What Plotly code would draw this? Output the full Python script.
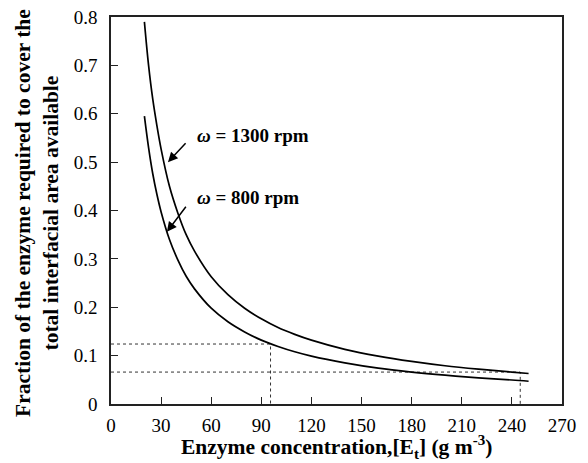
import plotly.graph_objects as go

# Data
enzyme_conc = [20, 22.5, 25, 27.5, 30, 35, 40, 45, 50, 60, 70, 80, 90, 100, 110, 120, 140, 160, 180, 200, 220, 240, 250]
frac_1300 = [0.79, 0.70, 0.63, 0.575, 0.527, 0.45, 0.395, 0.35, 0.316, 0.263, 0.226, 0.198, 0.176, 0.158, 0.144,
             0.132, 0.113, 0.099, 0.088, 0.079, 0.072, 0.066, 0.063]
frac_800 = [0.595, 0.53, 0.476, 0.433, 0.397, 0.34, 0.298, 0.264, 0.238, 0.198, 0.17, 0.149, 0.132, 0.119, 0.108,
            0.099, 0.085, 0.074, 0.066, 0.0595, 0.054, 0.0496, 0.047]

# Dotted guide lines
guide1_x = [0, 95.5, 95.5]
guide1_y = [0.124, 0.124, 0]
guide2_x = [0, 245, 245]
guide2_y = [0.066, 0.066, 0]

x_ticks = [0, 30, 60, 90, 120, 150, 180, 210, 240, 270]
y_ticks = [0, 0.1, 0.2, 0.3, 0.4, 0.5, 0.6, 0.7, 0.8]
y_tick_text = ["0", "0.1", "0.2", "0.3", "0.4", "0.5", "0.6", "0.7", "0.8"]

FONT = "Liberation Serif"

fig = go.Figure()
fig.add_trace(go.Scatter(x=guide1_x, y=guide1_y, mode="lines",
                         line=dict(color="#333", width=1, dash="dot"), hoverinfo="skip"))
fig.add_trace(go.Scatter(x=guide2_x, y=guide2_y, mode="lines",
                         line=dict(color="#333", width=1, dash="dot"), hoverinfo="skip"))
fig.add_trace(go.Scatter(x=enzyme_conc, y=frac_1300, mode="lines", name="1300 rpm",
                         line=dict(color="black", width=1.7, shape="spline")))
fig.add_trace(go.Scatter(x=enzyme_conc, y=frac_800, mode="lines", name="800 rpm",
                         line=dict(color="black", width=1.7, shape="spline")))

# Arrows
fig.add_annotation(x=34.1, y=0.500, ax=45.5, ay=0.542, axref="x", ayref="y", xref="x", yref="y",
                   text="", showarrow=True, arrowhead=2, arrowsize=1.3, arrowwidth=1.5, arrowcolor="black")
fig.add_annotation(x=33.5, y=0.356, ax=45.5, ay=0.411, axref="x", ayref="y", xref="x", yref="y",
                   text="", showarrow=True, arrowhead=2, arrowsize=1.3, arrowwidth=1.5, arrowcolor="black")
# Labels
fig.add_annotation(x=50.3, y=0.556, xref="x", yref="y", xanchor="left", yanchor="middle", showarrow=False,
                   text="<b><i>ω</i> = 1300 rpm</b>", font=dict(family=FONT, size=19, color="black"))
fig.add_annotation(x=50.3, y=0.426, xref="x", yref="y", xanchor="left", yanchor="middle", showarrow=False,
                   text="<b><i>ω</i> = 800 rpm</b>", font=dict(family=FONT, size=19, color="black"))

# Axis titles placed as annotations for precise positioning
fig.add_annotation(x=-0.163, y=0.495, xref="paper", yref="paper", xanchor="center", yanchor="middle",
                   showarrow=False, textangle=-90,
                   text="<b>Fraction of the enzyme required to cover the<br>total interfacial area available</b>",
                   font=dict(family=FONT, size=21.5, color="black"))
fig.add_annotation(x=0.5, y=-0.112, xref="paper", yref="paper", xanchor="center", yanchor="middle",
                   showarrow=False,
                   text="<b>Enzyme concentration,[E<sub>t</sub>] (g m<sup>-3</sup>)</b>",
                   font=dict(family=FONT, size=21.5, color="black"))

axis_common = dict(showline=True, linecolor="#222", linewidth=1.5, mirror=True, ticks="inside",
                   ticklen=7, tickwidth=1.3, tickcolor="#222", showgrid=False, zeroline=False,
                   automargin=False, ticklabeloverflow="allow",
                   tickfont=dict(family=FONT, size=19, color="black"))

# The page places the figure 8px from its top-left corner, so the figure is 8px smaller
fig.update_layout(
    width=580, height=455,
    margin=dict(l=103, r=26, t=9, b=59),
    paper_bgcolor="white", plot_bgcolor="white",
    showlegend=False,
    xaxis=dict(range=[0, 270], tickvals=x_ticks, ticktext=[str(v) for v in x_ticks],
               ticklabelstandoff=3, **axis_common),
    yaxis=dict(range=[0, 0.8], tickvals=y_ticks, ticktext=y_tick_text,
               ticklabelstandoff=8, **axis_common),
)

fig.write_html("out.html")
